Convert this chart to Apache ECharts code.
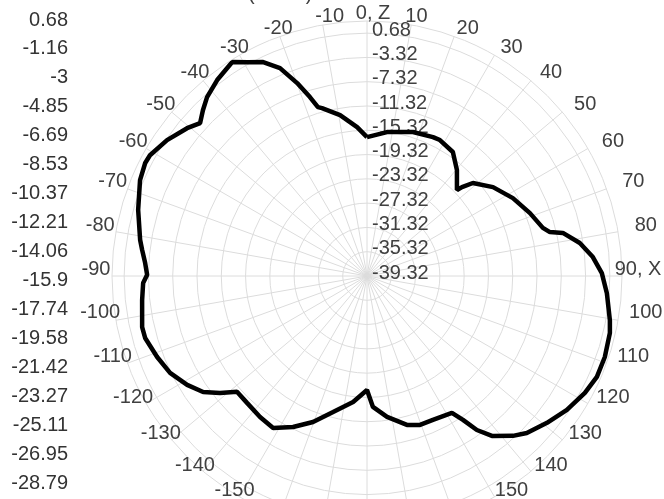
<!DOCTYPE html>
<html><head><meta charset="utf-8">
<script src="https://cdn.jsdelivr.net/npm/echarts@6/dist/echarts.min.js"></script>
<style>html,body{margin:0;padding:0;background:#fff}#c{width:664px;height:499px}</style>
</head><body><div id="c"></div>
<script>
// pattern angles (deg, 0 = Z at top, clockwise toward X at 90)
const angles = [0, 7.9, 17.7, 25.4, 28.2, 34.7, 40.3, 46.3, 46.9, 48.7, 54.8, 61.9, 68.9, 74.7, 76.5, 77.6, 81.2, 85.2, 89.3, 94.1,
  100.3, 103.2, 108.8, 113.7, 118.2, 123.8, 129.2, 134.5, 137.6, 142, 144.5, 146.3, 148.2, 155.4, 160.4, 165, 171.9, 177.4, 180,
  -173.7, -166, -159.7, -153.9, -148.3, -142.8, -136.6, -131.7, -128.5, -125.3, -121.2, -116.2, -111.1, -105.6, -102.8, -96.1,
  -91.8, -89.7, -86.6, -83.4, -81, -73.9, -67.1, -63, -60.9, -55.8, -50.6, -47.5, -44.7, -41.8, -37.4, -32.2, -29.1, -25.9,
  -22.7, -19.9, -17.7, -16.2, -15, -9.5, -3.8, 0];
// gain values (dB)
const gains = [-16.44, -15.39, -14.43, -13.99, -13.91, -14.48, -16.42, -18.83, -17.89, -16.11, -13.92, -12.08, -10.55, -9.29, -8.34, -6.29, -3.85, -1.99, -0.64, 0.29,
  1.34, 1.77, 2.06, 2.03, 1.40, 0.30, -1.06, -2.42, -3.67, -5.90, -8.16, -10.83, -12.78, -13.25, -13.29, -13.92, -15.88, -17.74, -20.55,
  -18.45, -16.24, -13.69, -11.63, -9.90, -10.18, -10.56, -10.64, -8.39, -6.25, -4.69, -3.17, -2.27, -1.38, -1.34, -2.07,
  -2.43, -3.11, -2.71, -2.04, -1.49, -0.09, 1.26, 1.68, 1.59, 0.50, -0.97, -2.04, -0.90, 0.20, 1.31, 2.33, 0.99, -0.16,
  -2.20, -5.53, -8.39, -10.35, -10.69, -12.45, -14.74, -16.44];
// radial scale
const rMin = -39.32, rStep = 4, rTop = 0.68;
// scale labels on the left
const scaleLabels = ['0.68', '-1.16', '-3', '-4.85', '-6.69', '-8.53', '-10.37', '-12.21', '-14.06', '-15.9', '-17.74', '-19.58', '-21.42', '-23.27', '-25.11', '-26.95', '-28.79'];
const titleText = '(Theta)';

const font = 'Liberation Sans, Arial, sans-serif';
const data = angles.map((a, i) => [gains[i] - rMin, a < 0 ? a + 360 : a]);
const topUnits = rTop - rMin; // 40
const angleText = v => { const d = v > 180 ? v - 360 : v; return d === 0 ? '0, Z' : d === 90 ? '90, X' : String(d); };
// angle labels sit on a slightly wide ring: per-label box size sets the offset
const rich = {};
for (let v = 0; v < 360; v += 10) {
  const t = v * Math.PI / 180;
  let w = 54 * Math.abs(Math.sin(t));
  if (v === 90) w = 30; // keep "90, X" inside the picture
  rich['s' + v] = { fontFamily: font, fontSize: 20, color: '#404040', align: 'center',
    width: Math.max(1, w), lineHeight: Math.max(1, 12 * Math.abs(Math.cos(t))) };
}
const chart = echarts.init(document.getElementById('c'));
chart.setOption({
  animation: false,
  title: { text: titleText, left: 243, top: -21, textStyle: { fontFamily: font, fontSize: 20, fontWeight: 'normal', color: '#404040' } },
  grid: { left: 75, top: 20, height: 463, width: 1, containLabel: false },
  xAxis: { type: 'value', show: false },
  yAxis: { type: 'category', inverse: true, boundaryGap: false, data: scaleLabels,
    axisLine: { show: false }, axisTick: { show: false }, splitLine: { show: false },
    axisLabel: { fontFamily: font, fontSize: 20, color: '#333', margin: 7, interval: 0 } },
  polar: [{ center: [367, 276], radius: 255 }, { center: [373, 269], radius: 250 }],
  angleAxis: [{ polarIndex: 0, type: 'value', min: 0, max: 360, interval: 10, startAngle: 90, clockwise: true,
    axisLine: { show: false }, axisTick: { show: false }, axisLabel: { show: false },
    splitLine: { show: true, lineStyle: { color: '#dcdcdc', width: 1 } } },
    { polarIndex: 1, type: 'value', min: 0, max: 360, interval: 10, startAngle: 90, clockwise: true,
    axisLine: { show: false }, axisTick: { show: false }, splitLine: { show: false },
    axisLabel: { fontFamily: font, fontSize: 20, color: '#404040', margin: 0, rich: rich,
      formatter: v => v >= 360 ? '' : '{s' + v + '|' + angleText(v) + '}' } }],
  radiusAxis: [{ polarIndex: 0, type: 'value', min: 0, max: topUnits + 2, interval: rStep,
    axisLine: { show: false }, axisTick: { show: false },
    splitLine: { show: true, lineStyle: { color: '#dcdcdc', width: 1 } },
    axisLabel: { fontFamily: font, fontSize: 20, color: '#404040', align: 'left', margin: -5,
      formatter: v => v > topUnits + 0.01 ? '' : '{a|' + (v + rMin).toFixed(2) + '}',
      rich: { a: { fontFamily: font, fontSize: 20, color: '#404040', padding: [0, 0, 6, 0] } } } },
    { polarIndex: 1, type: 'value', min: 0, max: 1, show: false }],
  series: [{ type: 'line', coordinateSystem: 'polar', polarIndex: 0, data: data, showSymbol: false, smooth: false,
    lineStyle: { color: '#000', width: 4.5 } }]
});
</script></body></html>
